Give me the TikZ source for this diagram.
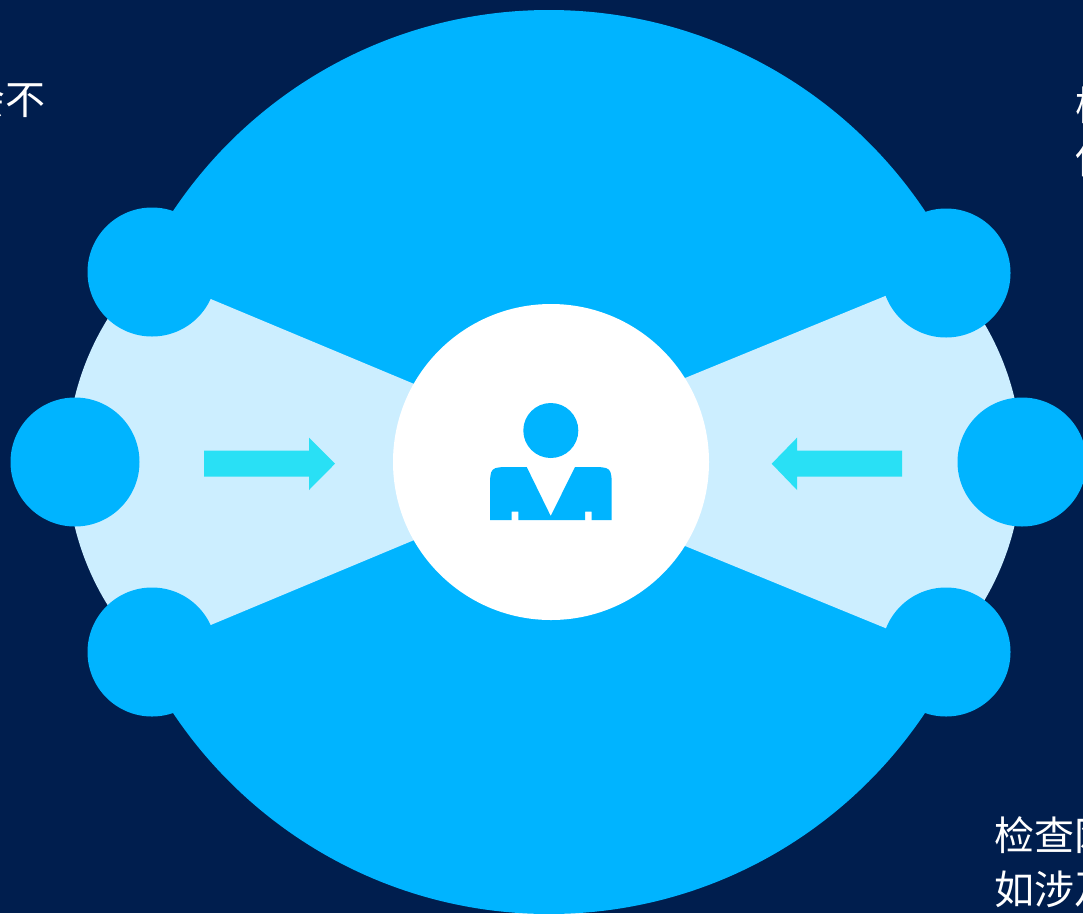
\documentclass[tikz,border=0pt]{standalone}
\usepackage{fontspec}
\newfontfamily\cjk{Noto Sans CJK SC}
\definecolor{navy}{RGB}{0,30,78}
\definecolor{sky}{RGB}{0,180,255}
\definecolor{pale}{RGB}{204,238,255}
\definecolor{aqua}{RGB}{41,224,245}
\begin{document}
\begin{tikzpicture}[
		x=1pt, y=-1pt,
		disc/.style={circle, fill=sky, inner sep=0pt, minimum size=129pt},
		hub/.style={circle, fill=white, inner sep=0pt, minimum size=316pt},
		flow/.style={fill=aqua},
		caption/.style={anchor=base west, inner sep=0pt, text=white, font=\cjk\fontsize{40}{54}\selectfont}
	]
	\useasboundingbox (0,0) rectangle (1083,913);
	\fill[navy] (0,0) rectangle (1083,913);
	\node[circle, fill=sky, inner sep=0pt, minimum size=904pt] (globe) at (549,462) {};
	% pale wedges
	\begin{scope}
		\clip (339,462) circle [radius=272];
		\fill[pale] (601,462) -- (0,211) -- (0,713) -- cycle;
	\end{scope}
	\begin{scope}
		\clip (749,462) circle [radius=273];
		\fill[pale] (480,462) -- (1083,215) -- (1083,709) -- cycle;
	\end{scope}
	% outer discs
	\node[disc] (dotlt) at (152,272) {};
	\node[disc] (dotlm) at (75,462) {};
	\node[disc] (dotlb) at (152,652) {};
	\node[disc] (dotrt) at (946,273) {};
	\node[disc] (dotrm) at (1022,462) {};
	\node[disc] (dotrb) at (946,652) {};
	\node[hub] (hub) at (551,462) {};
	% arrows
	\fill[flow] (204,450.7) -- (309,450.7) -- (309,437.7) -- (335,463.7)
		-- (309,490) -- (309,476.7) -- (204,476.7) -- cycle;
	\fill[flow] (902,450.7) -- (797,450.7) -- (797,437.7) -- (771.7,463.7)
		-- (797,490) -- (797,476.7) -- (902,476.7) -- cycle;
	% person
	\fill[sky] (550.8,430.5) circle [radius=27.5];
	\fill[sky] (490,520) -- (490,489) .. controls (490,467) .. (512,467)
		-- (526.7,467) -- (550.7,516) -- (575,467) -- (589.7,467)
		.. controls (611.7,467) .. (611.7,489) -- (611.7,520)
		-- (591.7,520) -- (591.7,511.7) -- (585,511.7) -- (585,520)
		-- (518.3,520) -- (518.3,511.7) -- (511.7,511.7) -- (511.7,520) -- cycle;
	% texts
	\node[caption] (notetl) at (-35,114) {会不};
	\node[caption] (notetra) at (1075,120) {检查};
	\node[caption] (notetrb) at (1075,173) {使用};
	\node[caption] (notebra) at (994,850) {检查网};
	\node[caption] (notebrb) at (994,904) {如涉及};
\end{tikzpicture}
\end{document}
